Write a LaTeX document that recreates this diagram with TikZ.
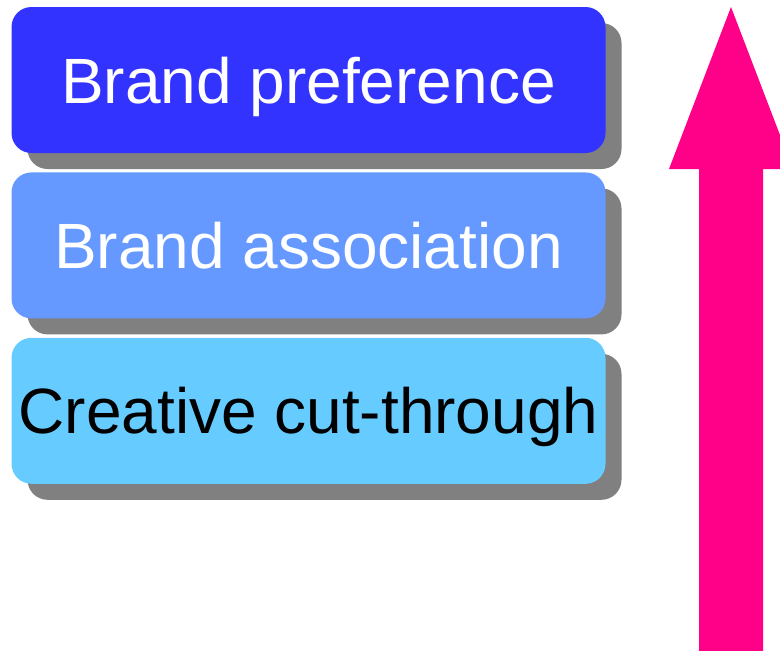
\documentclass[tikz,border=0pt]{standalone}
\usepackage{fontspec}
\setmainfont{Liberation Sans}
\usetikzlibrary{positioning}
\usetikzlibrary{shadows}
\definecolor{prefblue}{HTML}{3333FF}
\definecolor{assocblue}{HTML}{6699FF}
\definecolor{cutblue}{HTML}{66CCFF}
\definecolor{shadowgray}{HTML}{808080}
\definecolor{arrowpink}{HTML}{FF0088}
\begin{document}
\begin{tikzpicture}[x=1pt,y=-1pt,
    level/.style={rounded corners=20pt, minimum width=594pt, minimum height=146pt,
        inner sep=0pt, text height=46pt, text depth=0pt, font=\fontsize{64}{70}\selectfont,
        drop shadow={shadow xshift=16pt, shadow yshift=-16pt, fill=shadowgray, opacity=1}}]
        \useasboundingbox (0,0) rectangle (780,651);
        \clip (0,0) rectangle (780,651);

        \node[level, fill=prefblue, text=white] (pref) at (308.5,80) {Brand preference};
        \node[level, fill=assocblue, text=white, below=19pt of pref] (assoc) {Brand association};
        \node[level, fill=cutblue, text=black, below=19pt of assoc] (cut) {Creative cut-through};

        % upward arrow, head cut by the right edge
        \fill[arrowpink] (699,651) -- (699,169) -- (669,169) -- (731,7) -- (793,169)
            -- (763,169) -- (763,651) -- cycle;
        \end{tikzpicture}
\end{document}
